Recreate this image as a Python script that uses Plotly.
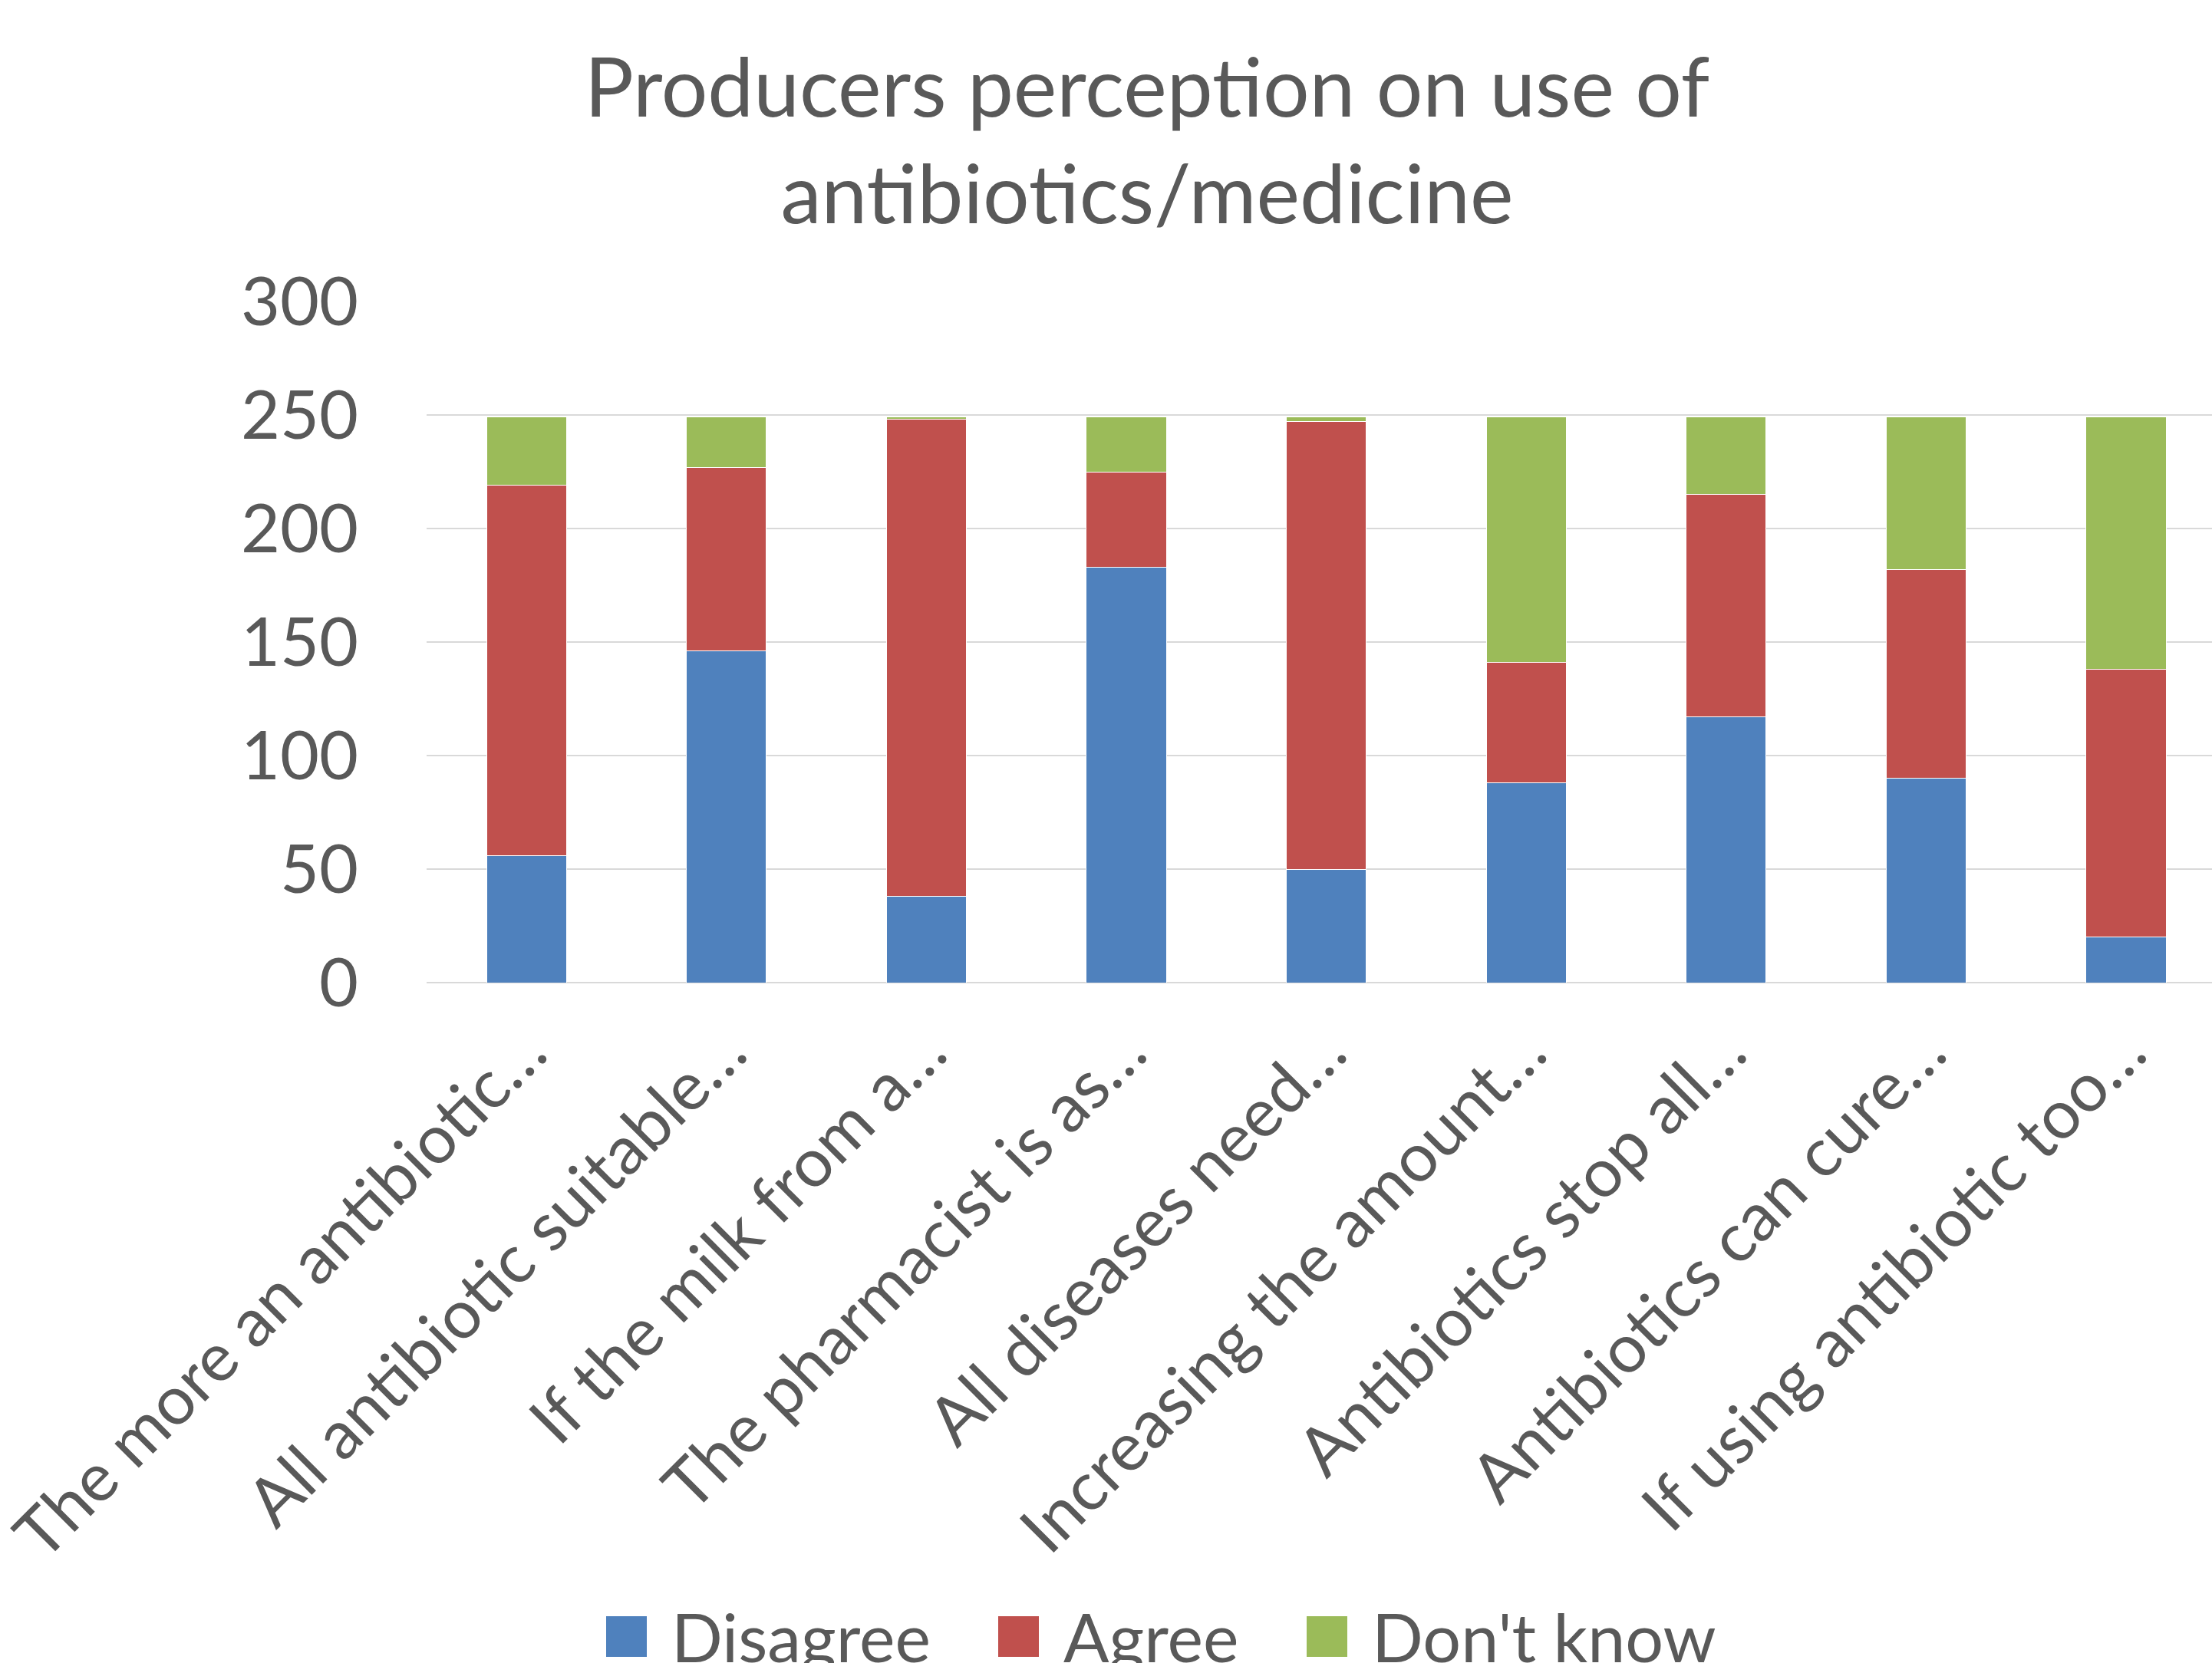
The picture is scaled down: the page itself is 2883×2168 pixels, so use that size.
import plotly.graph_objects as go

categories = [
    "The more an antibiotic…",
    "All antibiotic suitable…",
    "If the milk from a…",
    "The pharmacist is as…",
    "All diseases need…",
    "Increasing the amount…",
    "Antibiotics stop all…",
    "Antibiotics can cure…",
    "If using antibiotic too…",
]
disagree = [56, 146, 38, 183, 50, 88, 117, 90, 20]
agree = [163, 81, 210, 42, 197, 53, 98, 92, 118]
dont_know = [30, 22, 1, 24, 2, 108, 34, 67, 111]

series_names = ["Disagree", "Agree", "Don't know"]
series_values = [disagree, agree, dont_know]
series_colors = ["#4F81BD", "#C0504D", "#9BBB59"]

FONT = "Lato"
TXT = "#595959"
W, H = 2883, 2168
ML, MR, MT, MB = 556, 0, 393, 887
plot_h = H - MT - MB

fig = go.Figure()
for name, vals, col in zip(series_names, series_values, series_colors):
    fig.add_trace(go.Bar(
        x=categories, y=vals, name=name,
        marker=dict(color=col, line=dict(color="white", width=1)),
        showlegend=False,
    ))

# manual legend (large swatches as in the original)
def py(px):
    return (H - MB - px) / plot_h

def pxx(px):
    return (px - ML) / (W - ML - MR)

leg_sq_x = [790, 1301, 1703]
sq = 53
for name, col, x0 in zip(series_names, series_colors, leg_sq_x):
    fig.add_shape(type="rect", xref="paper", yref="paper",
                  x0=pxx(x0), x1=pxx(x0 + sq), y0=py(2160), y1=py(2107),
                  fillcolor=col, line=dict(width=0))
    fig.add_annotation(xref="paper", yref="paper", x=pxx(x0 + sq + 30), y=py(2133),
                       text=name, showarrow=False, xanchor="left", yanchor="middle",
                       font=dict(family=FONT, size=88, color=TXT))

fig.update_layout(
    width=W, height=H,
    margin=dict(l=ML, r=MR, t=MT, b=MB, autoexpand=False),
    paper_bgcolor="white", plot_bgcolor="white",
    barmode="stack", bargap=0.6,
    title=dict(
        text="Producers perception on use of<br>antibiotics/medicine",
        x=1495 / W, xanchor="center", xref="container",
        y=1 - 152 / H, yanchor="top", yref="container",
        font=dict(family=FONT, size=107, color=TXT),
    ),
    font=dict(family=FONT, color=TXT),
)
fig.update_xaxes(
    range=[-0.5, 8.43], tickangle=-45, showgrid=False, showline=False,
    ticks="", ticklabelstandoff=20,
    tickfont=dict(family=FONT, size=88, color=TXT),
)
fig.update_yaxes(
    range=[0, 300], dtick=50, showgrid=True, gridcolor="#D9D9D9", gridwidth=2,
    zeroline=True, zerolinecolor="#D9D9D9", zerolinewidth=2, showline=False,
    ticks="", ticklabelstandoff=88,
    tickfont=dict(family=FONT, size=88, color=TXT),
)

fig.write_html("out.html")
